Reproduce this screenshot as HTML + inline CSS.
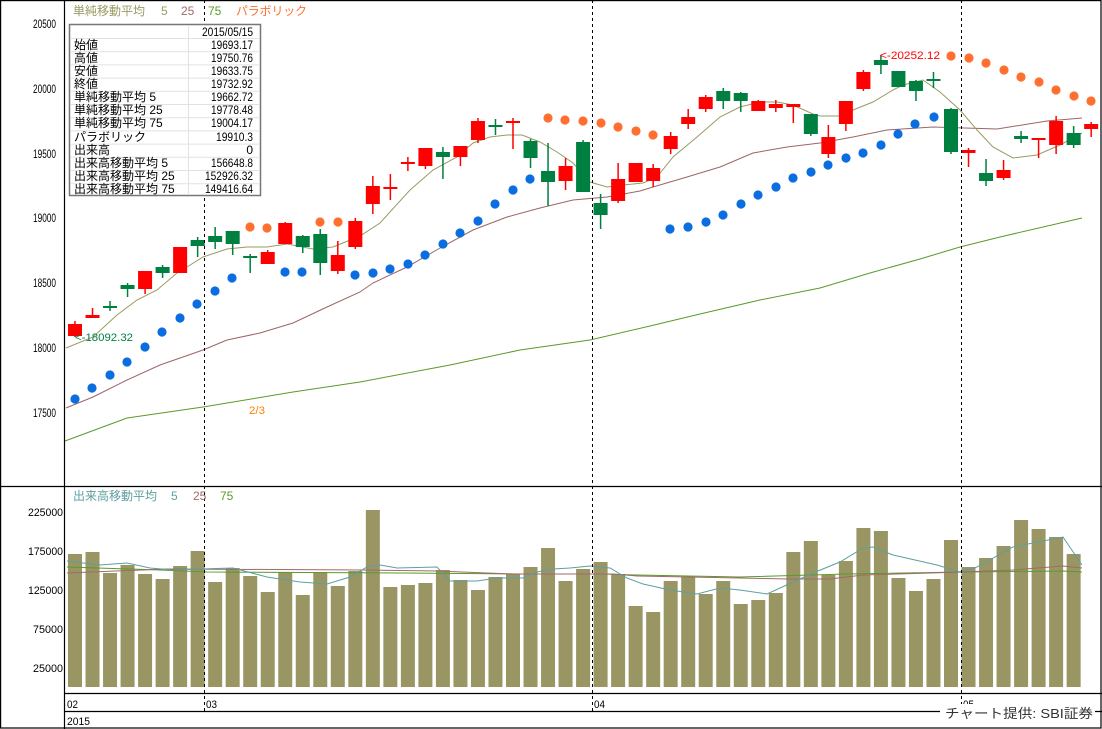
<!DOCTYPE html>
<html><head><meta charset="utf-8"><style>
html,body{margin:0;padding:0;background:#fff}
svg{display:block}
text{font-family:"Liberation Sans","Noto Sans CJK JP",sans-serif}
</style></head><body>
<svg id="s" width="1102" height="729" viewBox="0 0 1102 729" xmlns="http://www.w3.org/2000/svg">
<rect x="0" y="0" width="1102" height="729" fill="#fff"/>
<g id="plot"></g>
<!-- frame -->
<g stroke="#000" stroke-width="1.2" fill="none">
<rect x="0.6" y="0.6" width="1100.4" height="727.4"/>
<line x1="64.5" y1="0" x2="64.5" y2="729"/>
<line x1="0" y1="486.5" x2="1102" y2="486.5"/>
<line x1="64.5" y1="693.5" x2="1102" y2="693.5"/>
<line x1="64.5" y1="711.5" x2="1102" y2="711.5"/>
</g>
<g stroke="#000" stroke-width="1" stroke-dasharray="3,3">
<line x1="204.5" y1="0" x2="204.5" y2="711"/>
<line x1="592.5" y1="0" x2="592.5" y2="711"/>
<line x1="961.5" y1="0" x2="961.5" y2="711"/>
</g>
<!-- y labels -->
<g font-size="12" fill="#000" text-anchor="end">
<text x="56" y="28" textLength="23" lengthAdjust="spacingAndGlyphs">20500</text>
<text x="56" y="93" textLength="23" lengthAdjust="spacingAndGlyphs">20000</text>
<text x="56" y="158" textLength="23" lengthAdjust="spacingAndGlyphs">19500</text>
<text x="56" y="222" textLength="23" lengthAdjust="spacingAndGlyphs">19000</text>
<text x="56" y="287" textLength="23" lengthAdjust="spacingAndGlyphs">18500</text>
<text x="56" y="352" textLength="23" lengthAdjust="spacingAndGlyphs">18000</text>
<text x="56" y="417" textLength="23" lengthAdjust="spacingAndGlyphs">17500</text>
</g>
<g font-size="11" fill="#000" text-anchor="end">
<text x="63" y="516" textLength="35" lengthAdjust="spacingAndGlyphs">225000</text>
<text x="63" y="555" textLength="35" lengthAdjust="spacingAndGlyphs">175000</text>
<text x="63" y="594" textLength="35" lengthAdjust="spacingAndGlyphs">125000</text>
<text x="63" y="633" textLength="30" lengthAdjust="spacingAndGlyphs">75000</text>
<text x="63" y="672" textLength="30" lengthAdjust="spacingAndGlyphs">25000</text>
</g>
<!-- date labels -->
<g font-size="11" fill="#000">
<text x="67" y="708" textLength="11" lengthAdjust="spacingAndGlyphs">02</text>
<text x="206" y="708" textLength="11" lengthAdjust="spacingAndGlyphs">03</text>
<text x="594" y="708" textLength="11" lengthAdjust="spacingAndGlyphs">04</text>
<text x="963" y="708" textLength="11" lengthAdjust="spacingAndGlyphs">05</text>
<text x="67" y="725" textLength="23" lengthAdjust="spacingAndGlyphs">2015</text>
</g>
<rect x="940" y="704" width="155" height="22" fill="#fff"/>
<text x="945" y="718" font-size="13" fill="#333" textLength="148" lengthAdjust="spacingAndGlyphs">チャート提供: SBI証券</text>
<!-- legends -->
<g font-size="12">
<text x="73" y="15" fill="#9a9a62" textLength="72" lengthAdjust="spacingAndGlyphs">単純移動平均</text>
<text x="161" y="15" fill="#9a9a62">5</text>
<text x="181" y="15" fill="#a06a6a">25</text>
<text x="208" y="15" fill="#5a9a2a">75</text>
<text x="236" y="15" fill="#ff7030" textLength="71" lengthAdjust="spacingAndGlyphs">パラボリック</text>
<text x="73" y="500" fill="#5f9ea0" textLength="84" lengthAdjust="spacingAndGlyphs">出来高移動平均</text>
<text x="171" y="500" fill="#5f9ea0">5</text>
<text x="193" y="500" fill="#a06a6a">25</text>
<text x="220" y="500" fill="#5a9a2a">75</text>
</g>
<!-- annotations -->
<text x="75" y="341" font-size="11" fill="#008040" textLength="58" lengthAdjust="spacingAndGlyphs">&lt;-18092.32</text>
<text x="880" y="59" font-size="11" fill="#ff0000" textLength="60" lengthAdjust="spacingAndGlyphs">&lt;-20252.12</text>
<text x="249" y="414" font-size="11" fill="#ff8000" textLength="16" lengthAdjust="spacingAndGlyphs">2/3</text>
<!-- info box -->
<g id="info">
<rect x="69.5" y="24.5" width="191" height="171" fill="#fff" stroke="#777" stroke-width="1.5"/>
<g stroke="#e2e2e2" stroke-width="1">
<line x1="188.5" y1="25" x2="188.5" y2="195"/>
</g>
<g font-size="12" fill="#000" id="infotext">
<text x="253" y="36" text-anchor="end" textLength="51" lengthAdjust="spacingAndGlyphs">2015/05/15</text>
<text x="74" y="49">始値</text><text x="253" y="49" text-anchor="end" textLength="42" lengthAdjust="spacingAndGlyphs">19693.17</text>
<text x="74" y="62">高値</text><text x="253" y="62" text-anchor="end" textLength="42" lengthAdjust="spacingAndGlyphs">19750.76</text>
<text x="74" y="75">安値</text><text x="253" y="75" text-anchor="end" textLength="42" lengthAdjust="spacingAndGlyphs">19633.75</text>
<text x="74" y="88">終値</text><text x="253" y="88" text-anchor="end" textLength="42" lengthAdjust="spacingAndGlyphs">19732.92</text>
<text x="74" y="101">単純移動平均 5</text><text x="253" y="101" text-anchor="end" textLength="42" lengthAdjust="spacingAndGlyphs">19662.72</text>
<text x="74" y="114">単純移動平均 25</text><text x="253" y="114" text-anchor="end" textLength="42" lengthAdjust="spacingAndGlyphs">19778.48</text>
<text x="74" y="127">単純移動平均 75</text><text x="253" y="127" text-anchor="end" textLength="42" lengthAdjust="spacingAndGlyphs">19004.17</text>
<text x="74" y="141">パラボリック</text><text x="253" y="141" text-anchor="end" textLength="37" lengthAdjust="spacingAndGlyphs">19910.3</text>
<text x="74" y="154">出来高</text><text x="253" y="154" text-anchor="end">0</text>
<text x="74" y="167">出来高移動平均 5</text><text x="253" y="167" text-anchor="end" textLength="42" lengthAdjust="spacingAndGlyphs">156648.8</text>
<text x="74" y="180">出来高移動平均 25</text><text x="253" y="180" text-anchor="end" textLength="48" lengthAdjust="spacingAndGlyphs">152926.32</text>
<text x="74" y="193">出来高移動平均 75</text><text x="253" y="193" text-anchor="end" textLength="48" lengthAdjust="spacingAndGlyphs">149416.64</text>
</g>
</g>
</svg>
<script>
(function(){
var NS="http://www.w3.org/2000/svg",g=document.getElementById("plot");
function el(t,a){var e=document.createElementNS(NS,t);for(var k in a)e.setAttribute(k,a[k]);g.appendChild(e);return e;}
function X(i){return 75+17.52*i;}
var vt=[554,552,573,565,574,579,566,551,582,568,576,592,572,595,572,586,571,510,587,585,583,570,580,590,577,574,567,548,581,569,562,574,606,612,581,577,594,581,604,600,593,552,541,575,561,528,531,578,591,579,540,567,558,546,520,529,537,554];
vt.forEach(function(t,i){el("rect",{x:X(i)-7,y:t,width:14,height:687-t,fill:"#9a9664"});});
function pl(pts,c,w){el("polyline",{points:pts.map(function(p){return p.join(",")}).join(" "),fill:"none",stroke:c,"stroke-width":w||1});}
pl([[67,567],[160,570],[207,572],[400,573],[523,574],[603,574],[637,575],[740,577],[847,574],[963,572],[1063,571],[1082,572]],"#5a9a2a");
pl([[67,573],[167,569],[367,570],[437,571],[513,574],[613,574],[637,576],[740,578],[790,579],[830,579],[863,575],[963,572],[1013,570],[1063,566],[1082,568]],"#a06a6a");
pl([[67,561],[100,565],[127,563],[150,568],[173,570],[200,569],[233,568],[267,577],[300,582],[327,584],[350,577],[367,567],[380,565],[397,568],[437,567],[450,581],[477,581],[497,578],[523,578],[537,572],[553,569],[570,568],[590,566],[610,568],[627,578],[643,584],[670,590],[697,594],[720,588],[740,590],[767,594],[813,573],[840,562],[863,548],[873,547],[893,555],[937,565],[960,572],[977,567],[1013,547],[1063,537],[1082,565]],"#5f9ea0");
pl([[65,441],[127,418],[203,407],[293,392],[360,382],[450,365],[520,350],[590,340],[650,326],[700,314],[760,300],[820,288],[870,273],[920,259],[960,247],[1000,237],[1082,218]],"#5a9a2a");
pl([[66,408],[93,397],[127,380],[160,365],[203,350],[227,340],[260,333],[293,323],[327,307],[360,292],[373,283],[407,267],[440,248],[473,230],[507,217],[540,208],[573,200],[607,197],[640,191],[653,187],[687,177],[720,167],[753,153],[787,147],[820,143],[853,137],[887,130],[933,127],[997,129],[1047,121],[1082,118]],"#9b6666");
pl([[66,348],[93,337],[117,315],[137,300],[157,290],[177,273],[187,267],[203,257],[227,249],[247,247],[267,247],[287,244],[313,249],[333,247],[360,236],[380,223],[410,190],[433,170],[457,157],[473,143],[490,137],[507,135],[522,135],[540,142],[557,152],[573,163],[590,182],[607,187],[623,185],[643,183],[657,177],[673,157],[697,137],[720,117],[740,107],[760,102],[777,102],[793,105],[813,114],[820,116],[840,116],[853,110],[873,102],[893,90],[903,85],[923,80],[940,92],[960,110],[977,130],[993,147],[1013,158],[1037,155],[1060,145],[1082,133]],"#9a9a62");
var c=[[0,324,336,321,337,'r'],[1,315,318,308,318,'r'],[2,306,308,301,311,'g'],[3,285,289,283,297,'g'],[4,271,289,271,294,'r'],[5,267,273,265,278,'g'],[6,247,273,247,273,'r'],[7,240,246,237,257,'g'],[8,236,242,227,249,'g'],[9,231,244,231,255,'g'],[10,256,258,254,273,'g'],[11,252,264,250,264,'r'],[12,223,244,222,244,'r'],[13,236,247,235,253,'g'],[14,234,263,229,275,'g'],[15,255,271,241,274,'r'],[16,221,247,218,249,'r'],[17,186,204,176,214,'r'],[18,187,189,174,200,'r'],[19,162,164,157,171,'r'],[20,148,166,148,169,'r'],[21,152,157,147,179,'g'],[22,146,157,146,166,'r'],[23,121,140,118,143,'r'],[24,125,127,119,135,'g'],[25,121,123,118,149,'r'],[26,141,158,139,168,'g'],[27,171,182,143,206,'g'],[28,166,181,158,190,'r'],[29,142,192,140,192,'g'],[30,203,215,194,229,'g'],[31,179,201,163,203,'r'],[32,163,182,163,182,'r'],[33,168,181,164,187,'r'],[34,136,149,132,154,'r'],[35,117,124,109,129,'r'],[36,97,109,95,112,'r'],[37,91,101,88,109,'g'],[38,93,101,92,112,'g'],[39,101,111,100,111,'r'],[40,104,108,100,112,'r'],[41,104,107,104,123,'r'],[42,114,134,114,136,'g'],[43,137,154,125,158,'r'],[44,101,124,101,131,'r'],[45,72,89,70,91,'r'],[46,60,65,55,74,'g'],[47,71,87,71,87,'g'],[48,81,91,80,101,'g'],[49,79,81,72,88,'g'],[50,109,152,108,154,'g'],[51,150,153,148,167,'r'],[52,173,181,159,186,'g'],[53,170,178,160,180,'r'],[54,136,139,131,143,'g'],[55,138,140,138,158,'r'],[56,121,145,116,154,'r'],[57,133,145,126,148,'g'],[58,124,129,122,137,'r']];
c.forEach(function(d){var x=X(d[0]),col=d[5]=='r'?'#ff0000':'#008040';
el("rect",{x:x-0.75,y:d[3],width:1.5,height:d[4]-d[3],fill:col});
el("rect",{x:x-7,y:d[1],width:14,height:Math.max(2,d[2]-d[1]),fill:col});});
var B="#0a6ee0",O="#ff7030";
var dots=[[75,399,B],[92,388,B],[110,375,B],[127,362,B],[145,347,B],[162,332,B],[180,318,B],[197,304,B],[215,291,B],[232,278,B],[250,227,O],[267,228,O],[285,272,B],[302,272,B],[320,222,O],[338,222,O],[355,275,B],[373,273,B],[390,269,B],[408,264,B],[425,255,B],[443,244,B],[460,233,B],[478,221,B],[495,204,B],[513,190,B],[530,179,B],[548,118,O],[565,120,O],[583,121,O],[601,123,O],[618,127,O],[636,131,O],[653,135,O],[670,229,B],[688,227,B],[706,222,B],[723,215,B],[741,204,B],[758,195,B],[776,187,B],[793,178,B],[811,172,B],[828,165,B],[846,158,B],[863,153,B],[881,145,B],[898,134,B],[915,124,B],[934,117,B],[951,56,O],[969,58,O],[986,63,O],[1004,70,O],[1021,77,O],[1039,82,O],[1056,90,O],[1074,96,O],[1091,101,O]];
dots.forEach(function(d){el("circle",{cx:d[0],cy:d[1],r:4.6,fill:d[2]});});
var info=document.getElementById("info"),tx=document.getElementById("infotext");
for(var k=0;k<12;k++){var y=38.5+k*13.2;var l=document.createElementNS(NS,"line");l.setAttribute("x1",71);l.setAttribute("x2",259);l.setAttribute("y1",y);l.setAttribute("y2",y);l.setAttribute("stroke","#e2e2e2");info.insertBefore(l,tx);}
})();
</script>
</body></html>
